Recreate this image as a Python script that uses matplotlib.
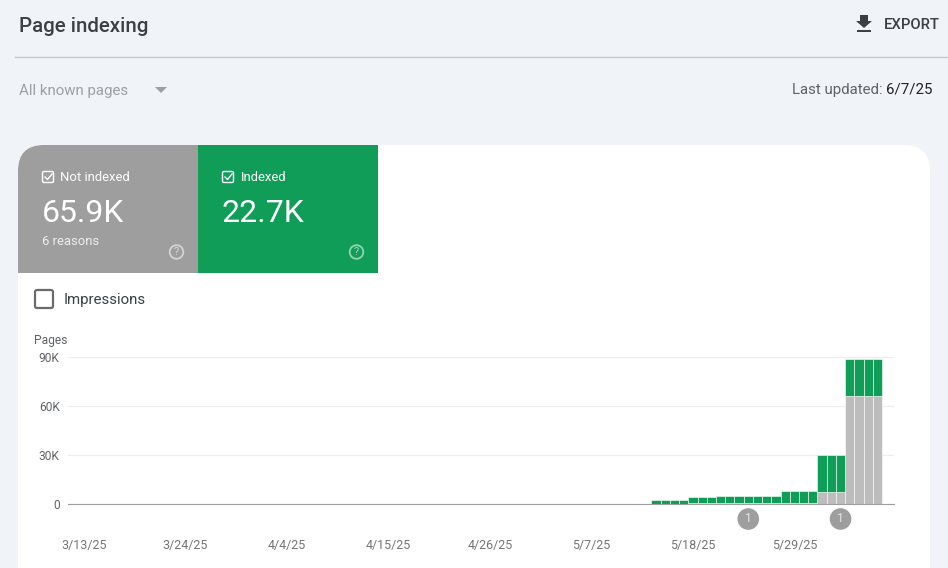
import pandas as pd
import numpy as np
import matplotlib
matplotlib.use('Agg')
import matplotlib.pyplot as plt
import matplotlib.dates as mdates
from matplotlib.patches import FancyBboxPatch, Rectangle, Circle, Polygon

plt.rcParams['font.family'] = ['Roboto', 'DejaVu Sans']

# data, thousands of pages per day
first_day = '2025-05-14'
not_indexed = [0.3, 0.3, 0.3, 0.3, 0.4, 0.4, 0.4,
               0.5, 0.5, 0.5, 0.5, 0.5, 0.5, 0.5,
               0.9, 0.9, 0.9, 0.9, 7.6, 7.6, 7.6,
               65.9, 65.9, 65.9, 65.9]
indexed = [2.2, 2.2, 2.2, 2.2, 3.9, 3.9, 3.9,
           4.5, 4.5, 4.5, 4.5, 4.5, 4.5, 4.5,
           7.1, 7.1, 7.1, 7.1, 22.4, 22.4, 22.4,
           22.7, 22.7, 22.7, 22.7]
y_ticks = [0, 30, 60, 90]
y_labels = ['0', '30K', '60K', '90K']
x_ticks = ['2025-03-13', '2025-03-24', '2025-04-04', '2025-04-15',
           '2025-04-26', '2025-05-07', '2025-05-18', '2025-05-29']
x_labels = ['3/13/25', '3/24/25', '4/4/25', '4/15/25',
            '4/26/25', '5/7/25', '5/18/25', '5/29/25']
note_days = ['2025-05-24', '2025-06-03']

W, H = 948, 568
BG = '#f0f3f8'
GREEN = '#0f9d58'
GREY_TILE = '#9e9e9e'
GREY_BAR = '#bdbdbd'

fig = plt.figure(figsize=(W / 100, H / 100), dpi=100, facecolor=BG)

# page furniture is laid out in pixels
page = fig.add_axes([0, 0, 1, 1])
page.set_xlim(0, W)
page.set_ylim(H, 0)
page.axis('off')


def px(size):
    return size * 0.72


page.text(19, 26, 'Page indexing', fontsize=px(20.5), fontweight='medium', color='#3c4043', va='center')
page.plot([15, 948], [56.5, 56.5], color='#c4c7cc', lw=1)
page.text(19, 90.5, 'All known pages', fontsize=px(15), color='#9aa0a6', va='center')
page.add_patch(Polygon([(155, 87), (167, 87), (161, 93)], color='#9aa0a6', lw=0))

page.add_patch(Polygon([(860, 15), (868, 15), (868, 21), (872, 21), (864, 28), (856, 21), (860, 21)],
                       color='#3c4043', lw=0))
page.add_patch(Rectangle((857, 30), 14, 1.6, color='#3c4043', lw=0))
page.text(884, 25, 'EXPORT', fontsize=px(14.8), fontweight='medium', color='#3c4043', va='center')

page.text(792, 90, 'Last updated: ', fontsize=px(15), color='#5f6368', va='center')
page.text(886, 90, '6/7/25', fontsize=px(15), color='#202124', va='center')

# white card with the two tiles cut to its corners
card = FancyBboxPatch((18, 145), 912, 500, boxstyle='round,pad=0,rounding_size=26',
                      facecolor='white', edgecolor='none')
page.add_patch(card)
tile1 = Rectangle((18, 145), 180, 128, facecolor=GREY_TILE, edgecolor='none')
page.add_patch(tile1)
tile1.set_clip_path(card)
page.add_patch(Rectangle((198, 145), 180, 128, facecolor=GREEN, edgecolor='none'))


def tile_text(x, name, total, extra=None):
    box = FancyBboxPatch((x + 24.5, 171.5), 11, 11, boxstyle='round,pad=0,rounding_size=1.5',
                         facecolor='none', edgecolor='white', lw=1)
    page.add_patch(box)
    page.plot([x + 27, x + 29.5, x + 34], [177, 179.5, 174], color='white', lw=1)
    page.text(x + 42.5, 177.5, name, fontsize=px(13), color='white', va='center')
    page.text(x + 23.5, 213, total, fontsize=px(32), color='white', va='center')
    if extra:
        page.text(x + 24, 241.5, extra, fontsize=px(13), color='#eeeeee', va='center')
    page.add_patch(Circle((x + 158.5, 252), 6.8, facecolor='none', edgecolor='#ffffff', alpha=0.55, lw=1.3))
    page.text(x + 158.5, 252.3, '?', fontsize=px(11), color='white', alpha=0.6, ha='center', va='center')


tile_text(18, 'Not indexed', '65.9K', '6 reasons')
tile_text(198, 'Indexed', '22.7K')

page.add_patch(FancyBboxPatch((35, 290), 18, 18, boxstyle='round,pad=0,rounding_size=2',
                              facecolor='white', edgecolor='#6b6b6b', lw=1.6))
page.text(64, 300, 'Impressions', fontsize=px(15), color='#3c4043', va='center')
page.text(34, 340.5, 'Pages', fontsize=px(12), color='#5f6368', va='center')

# chart axes, 9.226 px per day with 3/13 at x=84
left, right, top, bottom = 68, 894, 357, 504
ax = fig.add_axes([left / W, 1 - bottom / H, (right - left) / W, (bottom - top) / H])
ax.patch.set_alpha(0)

days = mdates.date2num(pd.date_range(first_day, periods=len(indexed)))
start = mdates.date2num(pd.Timestamp(x_ticks[0]))
per_day = 9.226
ax.set_xlim(start - (84 - left) / per_day, start + (right - 84) / per_day)
ax.set_ylim(0, 90)

ax.bar(days, not_indexed, width=1, color=GREY_BAR, edgecolor='white', linewidth=0.4, zorder=3)
ax.bar(days, indexed, width=1, bottom=not_indexed, color=GREEN, edgecolor='white', linewidth=0.4, zorder=3)

ax.set_yticks(y_ticks)
ax.set_yticklabels(y_labels, fontsize=px(12), color='#5f6368')
ax.set_xticks(mdates.date2num(pd.to_datetime(x_ticks)))
ax.set_xticklabels(x_labels, fontsize=px(12.5), color='#757575')
ax.tick_params(axis='both', length=0)
ax.tick_params(axis='x', pad=25)
ax.tick_params(axis='y', pad=6)
ax.grid(axis='y', color='#ececec', lw=0.8, zorder=0)
for s in ['top', 'left', 'right']:
    ax.spines[s].set_visible(False)
ax.spines['bottom'].set_color('#9e9e9e')
ax.spines['bottom'].set_linewidth(0.8)
ax.spines['bottom'].set_zorder(5)

for d in note_days:
    ax.annotate('1', (mdates.date2num(pd.Timestamp(d)), 0), xytext=(0, -15),
                textcoords='offset pixels', xycoords=('data', 'data'),
                ha='center', va='center', fontsize=px(12), color='#e8e8e8', annotation_clip=False,
                bbox=dict(boxstyle='circle,pad=0.36', facecolor='#9e9e9e', edgecolor='none'))

fig.savefig('out.png', dpi=100, facecolor=BG)
